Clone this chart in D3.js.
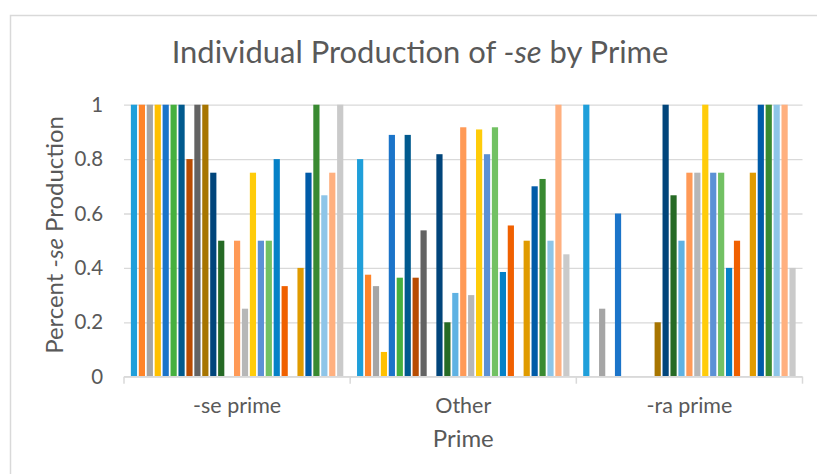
<!DOCTYPE html>
<html>
<head>
<meta charset="utf-8">
<script src="https://cdn.jsdelivr.net/npm/d3@7"></script>
<style>
  html, body { margin: 0; padding: 0; background: #fff; }
  svg { display: block; font-family: Lato, "Open Sans", sans-serif; }
</style>
</head>
<body>
<svg id="chart" width="817" height="474"></svg>
<script>
// ---- data ----
const categories = ["-se prime", "Other", "-ra prime"];
const speakers = ["1","2","3","4","5","6","7","8","9","10","11","12","13","14","15","16","17","18","19","20","21","22","23","24","25","26","27"];
const valuesSePrime = [1, 1, 1, 1, 1, 1, 1, 0.8, 1, 1, 0.75, 0.5, 0, 0.5, 0.25, 0.75, 0.5, 0.5, 0.8, 0.333, 0, 0.4, 0.75, 1, 0.667, 0.75, 1];
const valuesOther   = [0.8, 0.375, 0.333, 0.091, 0.889, 0.364, 0.889, 0.364, 0.538, 0, 0.818, 0.2, 0.308, 0.917, 0.3, 0.909, 0.818, 0.917, 0.385, 0.556, 0, 0.5, 0.7, 0.727, 0.5, 1, 0.45];
const valuesRaPrime = [1, 0, 0.25, 0, 0.6, 0, 0, 0, 0, 0.2, 1, 0.667, 0.5, 0.75, 0.75, 1, 0.75, 0.75, 0.4, 0.5, 0, 0.75, 1, 1, 1, 1, 0.4];
const yTicks = [0, 0.2, 0.4, 0.6, 0.8, 1];
const yTickLabels = ["0", "0.2", "0.4", "0.6", "0.8", "1"];

// ---- styles ----
const seriesColors = ["#1F9FDA","#FF8429","#A5A5A5","#FFC000","#1B74C9","#46B03E","#015A8E","#B84C02","#636363","#A77500","#01457B","#266A25",
  "#5FB2E3","#FF9A57","#B7B7B7","#FFCC0A","#5C91D5","#72C163","#0581C7","#F06000","#8C8C8C","#E09B00","#005BA8","#398A31","#8EC5E8","#FFB07F","#CACACA"];
const textColor = "#595959";
const gridColor = "#D9D9D9";

const valuesByCategory = [valuesSePrime, valuesOther, valuesRaPrime];
const table = categories.map((c, i) => ({ category: c, values: valuesByCategory[i] }));

const svg = d3.select("#chart");

// chart border (cropped on right/bottom)
svg.append("rect").attr("x", 10.5).attr("y", 15.5).attr("width", 830).attr("height", 480)
  .attr("fill", "#fff").attr("stroke", gridColor).attr("stroke-width", 1.5);

const plot = { left: 124, right: 802.5, top: 104.7, bottom: 376.7 };

const x0 = d3.scaleBand().domain(categories).range([plot.left, plot.right]).padding(0);
const x1 = d3.scaleBand().domain(d3.range(speakers.length)).range([6, x0.bandwidth() - 6]).padding(0);
const y = d3.scaleLinear().domain([0, 1]).range([plot.bottom, plot.top]);

// font calibration: fit title width
const titleTarget = 500;
const probe = svg.append("text").attr("font-size", 31).text("Individual Production of -se by Prime");
const fscale = titleTarget / probe.node().getComputedTextLength();
probe.remove();
const fs = v => v * fscale;

// gridlines
const yAxis = d3.axisLeft(y).tickValues(yTicks).tickSize(-(plot.right - plot.left))
  .tickFormat((d, i) => yTickLabels[i]).tickPadding(21);
const gy = svg.append("g").attr("transform", `translate(${plot.left},0)`).call(yAxis);
gy.select(".domain").remove();
gy.selectAll(".tick line").attr("stroke", gridColor).attr("stroke-width", 1.3);
gy.selectAll(".tick text").attr("fill", textColor).attr("font-size", fs(20.5))
  .attr("font-family", "Lato, 'Open Sans', sans-serif");

// bars
const groups = svg.append("g").selectAll("g").data(table).join("g")
  .attr("transform", d => `translate(${x0(d.category)},0)`);
const barW = 6.2;
groups.selectAll("rect").data(d => d.values.map((v, i) => ({ v, i }))).join("rect")
  .attr("x", d => x1(d.i) + (x1.bandwidth() - barW) / 2)
  .attr("width", barW)
  .attr("y", d => y(d.v))
  .attr("height", d => y(0) - y(d.v))
  .attr("fill", d => seriesColors[d.i]);

// x axis
const xAxis = d3.axisBottom(x0).tickSize(0).tickPadding(0);
const gx = svg.append("g").attr("transform", `translate(0,${plot.bottom})`).call(xAxis);
gx.select(".domain").attr("stroke", gridColor).attr("stroke-width", 1.5)
  .attr("d", `M${plot.left},0H${plot.right}`);
gx.selectAll(".tick text").attr("fill", textColor).attr("font-size", fs(21.5))
  .attr("font-family", "Lato, 'Open Sans', sans-serif")
  .attr("dy", null).attr("y", 413 - plot.bottom);
// category boundary ticks
const bounds = categories.map(c => x0(c)).concat([plot.right]);
gx.selectAll(".bound").data(bounds).join("line").attr("class", "bound")
  .attr("x1", d => d).attr("x2", d => d).attr("y1", 0).attr("y2", 7)
  .attr("stroke", gridColor).attr("stroke-width", 1.5);

// title
const title = svg.append("text").attr("x", 420).attr("y", 63).attr("text-anchor", "middle")
  .attr("fill", textColor).attr("font-size", fs(31));
title.append("tspan").text("Individual Production of ");
title.append("tspan").attr("font-style", "italic").text("-se");
title.append("tspan").text(" by Prime");

// y axis title
const yt = svg.append("text").attr("transform", "translate(63,235) rotate(-90)")
  .attr("text-anchor", "middle").attr("fill", textColor).attr("font-size", fs(24));
yt.append("tspan").text("Percent ");
yt.append("tspan").attr("font-style", "italic").text("-se");
yt.append("tspan").text(" Production");

// x axis title
svg.append("text").attr("x", (plot.left + plot.right) / 2).attr("y", 447).attr("text-anchor", "middle")
  .attr("fill", textColor).attr("font-size", fs(24)).text("Prime");
</script>
</body>
</html>
